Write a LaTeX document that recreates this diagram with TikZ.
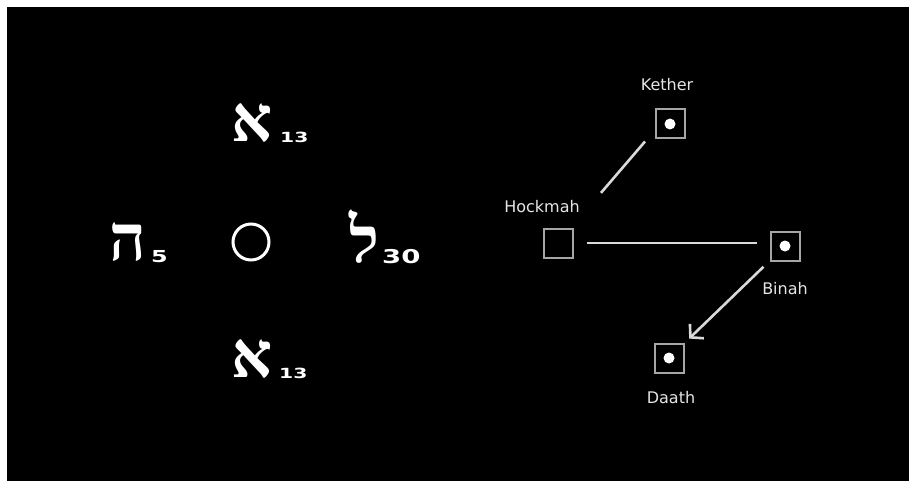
\documentclass[tikz,border=0pt]{standalone}
\usepackage{fontspec}
\usepackage{graphicx}
\usetikzlibrary{arrows.meta}
\setmainfont{DejaVu Sans}
\newfontfamily\hebfont[Script=Hebrew]{Liberation Serif}
\newcommand{\sefnum}[1]{\scalebox{1.45}[1]{#1}}

\begin{document}
\begin{tikzpicture}[x=1pt, y=-1pt,
    sefira/.style={draw=gray!70, line width=2pt, minimum size=29pt, inner sep=0pt},
    lit/.style={sefira, path picture={\fill[white] (path picture bounding box.center) circle (5.5pt);}},
    sefiraname/.style={text=white!90!black, font=\fontsize{16}{18}\selectfont},
    letter/.style={text=white, anchor=base, inner sep=0pt, font=\hebfont\bfseries\fontsize{64}{66}\selectfont},
    numeral/.style={text=white, anchor=base west, inner sep=0pt, font=\bfseries\fontsize{14}{16}\selectfont},
    channel/.style={white!85!black, line width=2.6pt}]
  % background
  \fill[white] (0,0) rectangle (909,481);
  \fill[black] (7,7) rectangle (909,481);
  % letters
  \node[letter] (alephtop) at (252,142) {א};
  \node[numeral] (numtop) at (280,143) {\sefnum{13}};
  \node[letter] (heh) at (128,260) {ה};
  \node[numeral, font=\bfseries\fontsize{16.5}{18}\selectfont] (numheh) at (151,262) {\sefnum{5}};
  \node[draw=white, line width=3pt, circle, minimum size=36pt, inner sep=0pt] (centre) at (251,242) {};
  \node[letter] (lamed) at (364,262) {ל};
  \node[numeral, font=\bfseries\fontsize{19}{21}\selectfont] (numlamed) at (382,263) {\sefnum{30}};
  \node[letter] (alephbot) at (252,377) {א};
  \node[numeral] (numbot) at (279,378) {\sefnum{13}};
  % sefirot
  \node[lit] (kether) at (670,124) {};
  \node[sefira] (hockmah) at (558,243) {};
  \node[lit] (binah) at (785,246) {};
  \node[lit] (daath) at (669,358) {};
  \node[sefiraname] (ketherlabel) at (667,85) {Kether};
  \node[sefiraname] (hockmahlabel) at (542,207) {Hockmah};
  \node[sefiraname] (binahlabel) at (785,289) {Binah};
  \node[sefiraname] (daathlabel) at (671,398) {Daath};
  % channels
  \draw[channel, shorten <=23pt, shorten >=66pt] ([xshift=-10pt]kether.center) -- (hockmah.center);
  \draw[channel, shorten <=13pt, shorten >=13pt] (hockmah.east) -- (hockmah.east -| binah.west);
  \draw[channel, shorten <=30pt, shorten >=28pt, -{Straight Barb[length=9pt, width=20pt, line width=2.6pt]}]
    (binah.center) -- (daath.center);
\end{tikzpicture}
\end{document}
